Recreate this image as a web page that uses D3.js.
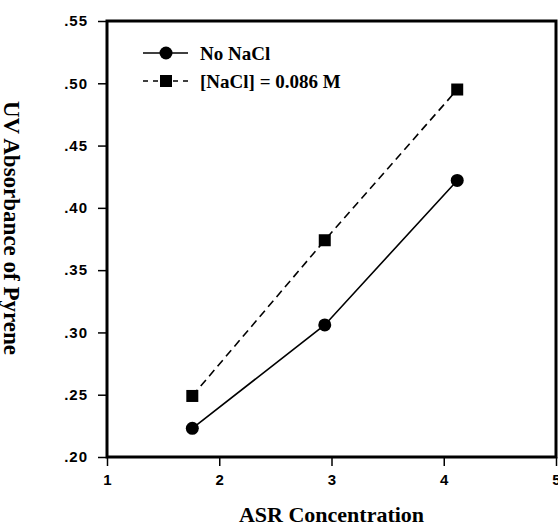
<!DOCTYPE html>
<html>
<head>
<meta charset="utf-8">
<script src="https://cdn.jsdelivr.net/npm/d3@7"></script>
<style>
  body { margin: 0; background: #fff; }
  svg { display: block; }
</style>
</head>
<body>
<div id="chart"></div>
<script>
// data
const concentration = [1.76, 2.94, 4.12];
const noNaCl = [0.223, 0.306, 0.422];
const withNaCl = [0.249, 0.374, 0.495];
const seriesNames = ["No NaCl", "[NaCl] = 0.086 M"];
const xTicks = [1, 2, 3, 4, 5];
const yTicks = [0.2, 0.25, 0.3, 0.35, 0.4, 0.45, 0.5, 0.55];

const W = 558, H = 527;
const margin = { top: 21, right: 2, bottom: 70, left: 107 };
const width = W - margin.left - margin.right,
  height = H - margin.top - margin.bottom;

const svg = d3.select("#chart").append("svg")
  .attr("width", W).attr("height", H);
const g = svg.append("g")
  .attr("transform", "translate(" + margin.left + "," + margin.top + ")");

const x = d3.scaleLinear().domain([1, 5]).range([0, width]);
const y = d3.scaleLinear().domain([0.2, 0.55]).range([height, 0]);

// axes
const xAxis = g.append("g")
  .attr("transform", "translate(0," + height + ")")
  .call(d3.axisBottom(x).tickValues(xTicks).tickSize(9).tickPadding(8)
    .tickFormat(d3.format("d")));
const yAxis = g.append("g")
  .call(d3.axisLeft(y).tickValues(yTicks).tickSize(9).tickPadding(10)
    .tickFormat(d => d3.format(".2f")(d).replace(/^0/, "")));

[xAxis, yAxis].forEach(a => {
  a.select(".domain").remove();
  a.selectAll(".tick line").attr("stroke", "#000").attr("stroke-width", 1.5);
  a.selectAll(".tick text")
    .style("font-family", "'Liberation Sans', Arial, sans-serif")
    .style("font-size", "15px")
    .style("font-weight", "bold")
    .style("letter-spacing", "1px")
    .attr("fill", "#000");
});
// the "5" sits on the right edge, as in the original
xAxis.selectAll(".tick text").style("letter-spacing", "0px");

// frame
g.append("rect")
  .attr("x", 0).attr("y", 0)
  .attr("width", width).attr("height", height)
  .attr("fill", "none").attr("stroke", "#000").attr("stroke-width", 3);

// series
const lineGen = d3.line().x(d => x(d[0])).y(d => y(d[1]));
const s1 = concentration.map((c, i) => [c, noNaCl[i]]);
const s2 = concentration.map((c, i) => [c, withNaCl[i]]);

g.append("path").datum(s2).attr("d", lineGen)
  .attr("fill", "none").attr("stroke", "#000").attr("stroke-width", 1.6)
  .attr("stroke-dasharray", "8,5");
g.append("path").datum(s1).attr("d", lineGen)
  .attr("fill", "none").attr("stroke", "#000").attr("stroke-width", 1.6);

g.selectAll(".sq").data(s2).enter().append("rect")
  .attr("x", d => x(d[0]) - 6).attr("y", d => y(d[1]) - 6)
  .attr("width", 12).attr("height", 12).attr("fill", "#000");
g.selectAll(".dot").data(s1).enter().append("circle")
  .attr("cx", d => x(d[0])).attr("cy", d => y(d[1]))
  .attr("r", 6.5).attr("fill", "#000");

// legend
const legend = svg.append("g").attr("transform", "translate(143,53)");
seriesNames.forEach((name, i) => {
  const row = legend.append("g").attr("transform", "translate(0," + i * 28 + ")");
  row.append("line").attr("x1", 0).attr("x2", 45)
    .attr("stroke", "#000").attr("stroke-width", 1.6)
    .attr("stroke-dasharray", i === 0 ? null : "5,5");
  if (i === 0) {
    row.append("circle").attr("cx", 23).attr("r", 6.5).attr("fill", "#000");
  } else {
    row.append("rect").attr("x", 17).attr("y", -6).attr("width", 12).attr("height", 12).attr("fill", "#000");
  }
  row.append("text").attr("x", 57).attr("dy", "0.35em")
    .style("font-family", "'Liberation Serif', 'Times New Roman', serif")
    .style("font-size", "19px").style("font-weight", "bold")
    .text(name);
});

// axis titles
svg.append("text")
  .attr("x", margin.left + x(3)).attr("y", 522)
  .attr("text-anchor", "middle")
  .style("font-family", "'Liberation Serif', 'Times New Roman', serif")
  .style("font-size", "22px").style("font-weight", "bold")
  .text("ASR Concentration");
svg.append("text")
  .attr("transform", "translate(12,228) rotate(90)")
  .attr("text-anchor", "middle").attr("dy", "0.35em")
  .style("font-family", "'Liberation Serif', 'Times New Roman', serif")
  .style("font-size", "23px").style("font-weight", "bold")
  .text("UV Absorbance of Pyrene");
</script>
</body>
</html>
